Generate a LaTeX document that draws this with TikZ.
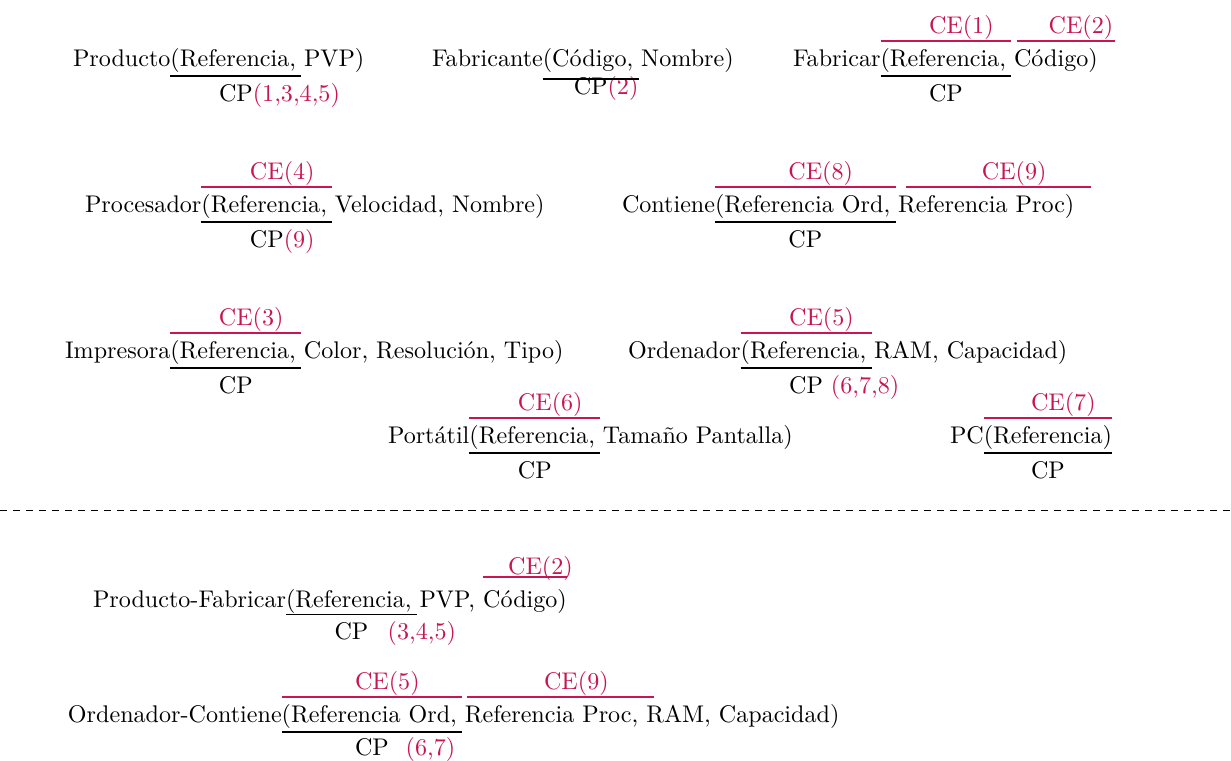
\documentclass[tikz,border=0pt]{standalone}
\usepackage{amsmath}
\usepackage{tikz}
\usetikzlibrary{positioning}
\definecolor{cered}{RGB}{200,22,80}
\newcommand{\kgap}{\hspace{2.2pt}\null}

\begin{document}
\begin{tikzpicture}[x=0.415pt, y=-0.415pt,
    every node/.style={inner sep=0pt, outer sep=0pt},
    keypart/.style={text height=10.4pt, text depth=4.2pt},
    uline/.style={line width=0.6pt},
    oline/.style={line width=0.6pt, cered},
    celabel/.style={cered, above=2.9pt of #1, anchor=base},
    cplabel/.style={below=10.4pt of #1, anchor=base}]
    \useasboundingbox (0,0) rectangle (1231,760);

    % Producto, Fabricante, Fabricar
    \node[anchor=base west] (prod) at (73,66) {Producto};
    \node[keypart, base right=0pt of prod] (prodk) {(Referencia,\kgap};
    \node[base right=1.1pt of prodk] (prodr) {PVP)};
    \node[cplabel=prodk] (prodcp) {CP\rlap{\color{cered}(1,3,4,5)}};
    \draw[uline] (prodk.south west) -- (prodk.south east);

    \node[anchor=base west] (fabte) at (432,66) {Fabricante};
    \node[keypart, text depth=5.4pt, base right=0pt of fabte] (fabtek) {(Código,\kgap};
    \node[base right=1.1pt of fabtek] (fabter) {Nombre)};
    \node[below=6.6pt of fabtek, anchor=base] (fabtecp) {CP\rlap{\color{cered}(2)}};
    \draw[uline] (fabtek.south west) -- (fabtek.south east);

    \node[anchor=base west] (fabr) at (793,66) {Fabricar};
    \node[keypart, base right=0pt of fabr] (fabrk1) {(Referencia,\kgap};
    \node[keypart, base right=1.1pt of fabrk1] (fabrk2) {Código)};
    \node[celabel=fabrk1] (fabrce1) {CE\rlap{(1)}};
    \node[celabel=fabrk2, xshift=4pt] (fabrce2) {CE\rlap{(2)}};
    \node[cplabel=fabrk1] (fabrcp) {CP};
    \draw[uline] (fabrk1.south west) -- (fabrk1.south east);
    \draw[oline] (fabrk1.north west) -- (fabrk1.north east);
    \draw[oline] ([xshift=1.2pt]fabrk2.north west) -- ([xshift=7pt]fabrk2.north east);

    % Procesador, Contiene
    \node[anchor=base west] (proc) at (85,212) {Procesador};
    \node[keypart, base right=0pt of proc] (prock) {(Referencia,\kgap};
    \node[base right=1.1pt of prock] (procr) {Velocidad, Nombre)};
    \node[celabel=prock] (procce) {CE\rlap{(4)}};
    \node[cplabel=prock] (proccp) {CP\rlap{\color{cered}(9)}};
    \draw[uline] (prock.south west) -- (prock.south east);
    \draw[oline] (prock.north west) -- (prock.north east);

    \node[anchor=base west] (cont) at (622,212) {Contiene};
    \node[keypart, base right=0pt of cont] (contk1) {(Referencia Ord,\kgap};
    \node[keypart, base right=1.1pt of contk1] (contk2) {Referencia Proc)};
    \node[celabel=contk1] (contce1) {CE\rlap{(8)}};
    \node[celabel=contk2, xshift=5.2pt] (contce2) {CE\rlap{(9)}};
    \node[cplabel=contk1] (contcp) {CP};
    \draw[uline] (contk1.south west) -- (contk1.south east);
    \draw[oline] (contk1.north west) -- (contk1.north east);
    \draw[oline] ([xshift=3.4pt]contk2.north west) -- ([xshift=6.8pt]contk2.north east);

    % Impresora, Ordenador, Portatil, PC
    \node[anchor=base west] (impr) at (65,358) {Impresora};
    \node[keypart, base right=0pt of impr] (imprk) {(Referencia,\kgap};
    \node[base right=1.1pt of imprk] (imprr) {Color, Resolución, Tipo)};
    \node[celabel=imprk] (imprce) {CE\rlap{(3)}};
    \node[cplabel=imprk] (imprcp) {CP};
    \draw[uline] (imprk.south west) -- (imprk.south east);
    \draw[oline] (imprk.north west) -- (imprk.north east);

    \node[anchor=base west] (orde) at (628,358) {Ordenador};
    \node[keypart, base right=0pt of orde] (ordek) {(Referencia,\kgap};
    \node[base right=1.1pt of ordek] (order) {RAM, Capacidad)};
    \node[celabel=ordek] (ordece) {CE\rlap{(5)}};
    \node[cplabel=ordek] (ordecp) {CP\rlap{\color{cered}\ (6,7,8)}};
    \draw[uline] (ordek.south west) -- (ordek.south east);
    \draw[oline] (ordek.north west) -- (ordek.north east);

    \node[anchor=base west] (port) at (388,443) {Portátil};
    \node[keypart, base right=0pt of port] (portk) {(Referencia,\kgap};
    \node[base right=1.1pt of portk] (portr) {Tamaño Pantalla)};
    \node[celabel=portk] (portce) {CE\rlap{(6)}};
    \node[cplabel=portk] (portcp) {CP};
    \draw[uline] (portk.south west) -- (portk.south east);
    \draw[oline] (portk.north west) -- (portk.north east);

    \node[anchor=base west] (pc) at (950,443) {PC};
    \node[keypart, base right=0pt of pc] (pck) {(Referencia)};
    \node[celabel=pck] (pcce) {CE\rlap{(7)}};
    \node[cplabel=pck] (pccp) {CP};
    \draw[uline] (pck.south west) -- (pck.south east);
    \draw[oline] (pck.north west) -- (pck.north east);

    % Separador
    \coordinate (sepl) at (0,510);
    \coordinate (sepr) at (1231,510);
    \draw[dash pattern=on 3pt off 2.4pt, line width=0.4pt] (sepl) -- (sepr);

    % Producto-Fabricar
    \node[anchor=base west] (pf) at (93,607) {Producto-Fabricar};
    \node[keypart, text depth=3pt, base right=0pt of pf] (pfk1) {(Referencia,\kgap};
    \node[base right=1.1pt of pfk1] (pfm) {PVP,\ \null};
    \node[keypart, text height=12.4pt, base right=0pt of pfm] (pfk2) {Código)};
    \node[cered, above=1.2pt of pfk2, anchor=base] (pfce) {CE\rlap{(2)}};
    \node[cplabel=pfk1] (pfcp) {CP\rlap{\color{cered}\hspace{8pt}(3,4,5)}};
    \draw[uline] (pfk1.south west) -- (pfk1.south east);
    \draw[oline] (pfk2.north west) -- (pfk2.north east);

    % Ordenador-Contiene
    \node[anchor=base west] (oc) at (68,722) {Ordenador-Contiene};
    \node[keypart, base right=0pt of oc] (ock1) {(Referencia Ord,\kgap};
    \node[keypart, base right=1.1pt of ock1] (ock2) {Referencia Proc,\kgap};
    \node[base right=1.1pt of ock2] (ocr) {RAM, Capacidad)};
    \node[celabel=ock1] (occe1) {CE\rlap{(5)}};
    \node[celabel=ock2, xshift=2.8pt] (occe2) {CE\rlap{(9)}};
    \node[below=9.6pt of ock1, anchor=base] (occp) {CP\rlap{\color{cered}\hspace{7pt}(6,7)}};
    \draw[uline] (ock1.south west) -- (ock1.south east);
    \draw[oline] (ock1.north west) -- (ock1.north east);
    \draw[oline] ([xshift=1pt]ock2.north west) -- ([xshift=4.1pt]ock2.north east);
\end{tikzpicture}
\end{document}
